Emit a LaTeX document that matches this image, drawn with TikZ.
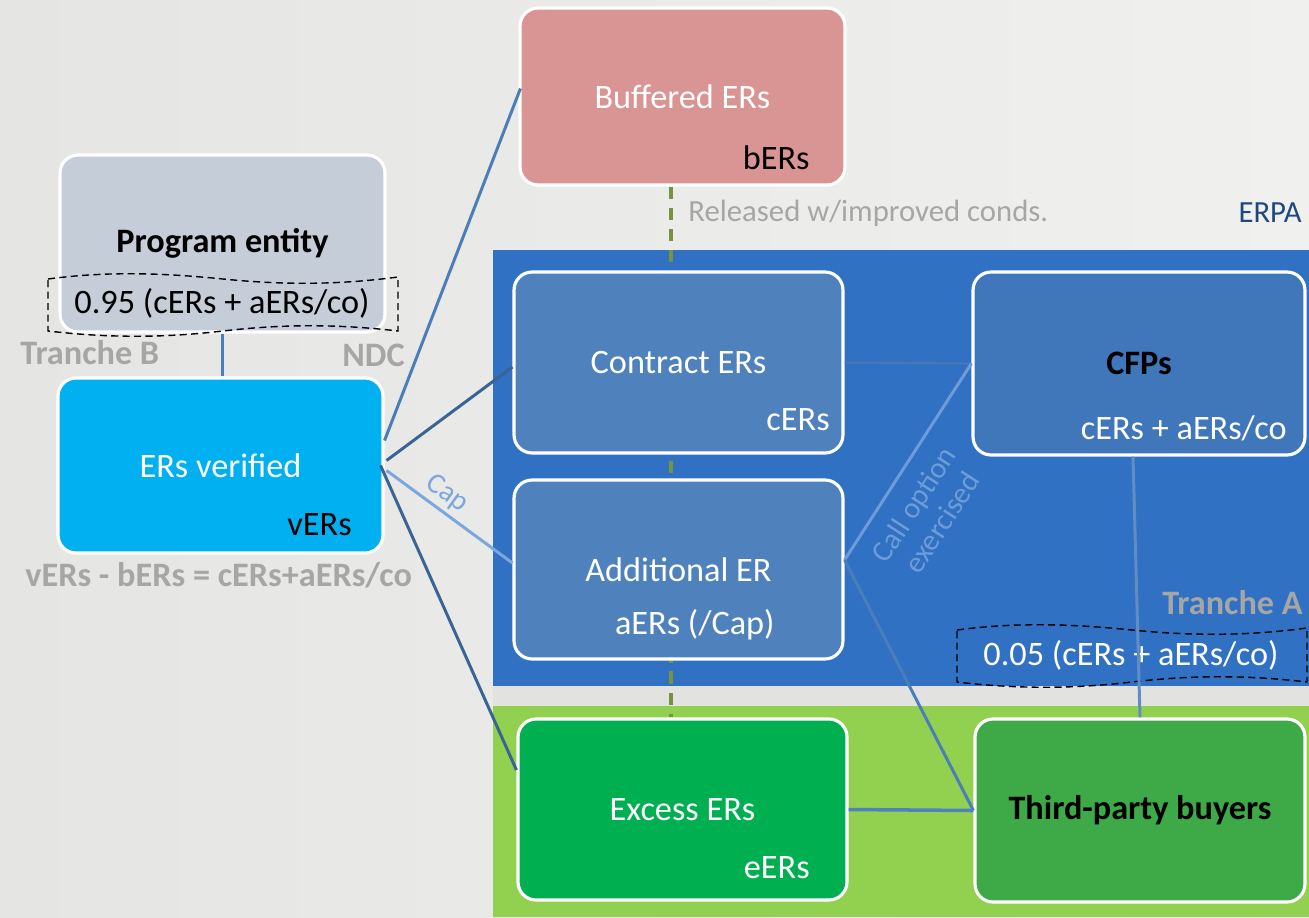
\documentclass[tikz,border=0pt]{standalone}
\usepackage{fontspec}
\setmainfont{Carlito}
\usetikzlibrary{calc}
\definecolor{bgl}{HTML}{E5E5E3}
\definecolor{bgr}{HTML}{F0F0EE}
\definecolor{progfill}{HTML}{C4CDD8}
\definecolor{verfill}{HTML}{00B0F0}
\definecolor{buffill}{HTML}{D99594}
\definecolor{bandblue}{HTML}{3071C3}
\definecolor{boxblue}{HTML}{4F81BD}
\definecolor{cfpblue}{HTML}{4076BA}
\definecolor{bandgreen}{HTML}{92D050}
\definecolor{excfill}{HTML}{00B050}
\definecolor{tpbfill}{HTML}{3DAA47}
\definecolor{gapgrey}{HTML}{E2E3E1}
\definecolor{tgrey}{HTML}{A6A6A6}
\definecolor{erpacol}{HTML}{1F497D}
\definecolor{olivecol}{HTML}{77933C}
\definecolor{lmid}{HTML}{4A7EBB}
\definecolor{ldark}{HTML}{3A6396}
\definecolor{llight}{HTML}{7BA7E1}
\definecolor{lcall}{HTML}{6E9CD8}
\definecolor{lthin}{HTML}{4A79B5}
\pgfdeclarelayer{bg}
\pgfsetlayers{bg,main}
\begin{document}
\begin{tikzpicture}[x=0.02cm,y=-0.02cm,
  fbig/.style={font=\fontsize{19.5}{23}\selectfont},
  fmid/.style={font=\fontsize{17.5}{21}\selectfont},
  box/.style={draw=white, line width=1.8pt, rounded corners=0.36cm, text=white, fbig, inner sep=0pt},
  sublab/.style={anchor=east, text=white, fbig, inner sep=0pt},
  greylab/.style={text=tgrey, inner sep=0pt, font=\fontsize{19.5}{23}\selectfont\bfseries},
  conn/.style={line width=1.7pt},
  wavebox/.pic={\draw[black, line width=0.8pt, dash pattern=on 4pt off 2.5pt]
     (0,2) .. controls (60,-6) and (115,-4) .. (175,2) .. controls (235,8) and (290,8) .. (350,0)
     -- (350,54) .. controls (290,47) and (235,47) .. (175,54) .. controls (115,61) and (60,61) .. (0,54) -- cycle;}
]
\useasboundingbox (0,0) rectangle (1309,917);

% nodes
\node[box, fill=progfill, minimum width=6.5cm, minimum height=3.54cm, text=black, font=\fontsize{19.5}{23}\selectfont\bfseries] (prog) at (222.5,243.5) {Program entity};
\node[box, fill=verfill, minimum width=6.5cm, minimum height=3.5cm] (ver) at (220.5,465.5) {ERs verified};
\node[box, fill=buffill, minimum width=6.5cm, minimum height=3.54cm] (buf) at (682.5,96.5) {Buffered ERs};
\node[box, fill=boxblue, minimum width=6.58cm, minimum height=3.62cm] (con) at (678.5,362.5) {Contract ERs};
\node[box, fill=boxblue, minimum width=6.58cm, minimum height=3.58cm] (add) at (678.5,569.5) {Additional ER};
\node[box, fill=cfpblue, minimum width=6.64cm, minimum height=3.66cm, text=black, font=\fontsize{19.5}{23}\selectfont\bfseries] (cfp) at (1139,363.5) {CFPs};
\node[box, fill=excfill, minimum width=6.58cm, minimum height=3.62cm] (exc) at (682.5,809.5) {Excess ERs};
\node[box, fill=tpbfill, minimum width=6.6cm, minimum height=3.66cm, text=black, font=\fontsize{19.5}{23}\selectfont\bfseries] (tpb) at (1140,810.5) {Third-party buyers};

% background, bands and the dashed release line behind the boxes
\begin{pgfonlayer}{bg}
\shade[left color=bgl, right color=bgr] (0,0) rectangle (1309,917);
\fill[gapgrey] (493,686) rectangle (1309,706);
\fill[bandblue] (493,250) rectangle (1309,686);
\fill[bandgreen] (493,706) rectangle (1309,917);
\draw[olivecol, line width=1.8pt, dash pattern=on 7pt off 5pt] ([xshift=-0.23cm]buf.south) -- ([xshift=-0.23cm]exc.north);
\end{pgfonlayer}

% sub labels
\node[sublab, text=black] (vers) at (352,525) {vERs};
\node[sublab, text=black] (bers) at (810,158) {bERs};
\node[sublab] (cers) at (830,420) {cERs};
\node[sublab] (aers) at (775,625) {aERs (/Cap)};
\node[sublab] (cfpsub) at (1287,428) {cERs + aERs/co};
\node[sublab] (eers) at (810,868) {eERs};

% grey and other labels
\node[greylab, anchor=west] (trb) at (20,353) {Tranche B};
\node[greylab, anchor=east] (ndc) at (405,355) {NDC};
\node[greylab, anchor=west] (eq) at (25,575) {vERs - bERs = cERs+aERs/co};
\node[greylab, anchor=east] (tra) at (1303,603) {Tranche A};
\node[fmid, text=tgrey, anchor=west, inner sep=0pt] (rel) at (688,213) {Released w/improved conds.};
\node[fmid, text=erpacol, anchor=east, inner sep=0pt] (erpa) at (1302,213) {ERPA};

% wavy dashed boxes
\pic at (48,277) {wavebox};
\node[fbig, text=black, inner sep=0pt] (p95) at (222,303) {0.95 (cERs + aERs/co)};
\pic at (957,628) {wavebox};
\node[fbig, text=white, inner sep=0pt] (p05) at (1131,655) {0.05 (cERs + aERs/co)};

% connectors
\draw[conn, lmid] (prog.south) -- (prog.south |- ver.north);
\draw[conn, lmid] ($(ver.east)+(0,-25)$) -- ($(buf.west)+(2,-8)$);
\draw[conn, ldark] ($(ver.east)+(2,-5)$) -- ($(con.west)+(0,4.5)$);
\draw[conn, llight] ($(ver.east)+(2,5)$) -- node[pos=0.4, sloped, above=1pt, text=llight, font=\fontsize{16.5}{20}\selectfont, inner sep=1pt] (caplab) {Cap} ($(add.west)+(0,-6.5)$);
\draw[conn, ldark] ($(ver.east)+(-4,0)$) -- ($(exc.west)+(0,-39.5)$);
\draw[line width=1.1pt, lthin] (con.east) -- (cfp.west);
\draw[conn, lcall] ($(add.east)+(0,-9.5)$) -- node[pos=0.36, sloped, below=9pt, text=lcall, align=center, font=\fontsize{17}{19}\selectfont, inner sep=0pt] (calllab) {Call option\\exercised} (cfp.west);
\draw[conn, lmid] ($(add.east)+(0,-9.5)$) -- (tpb.west);
\draw[line width=2pt, boxblue] (exc.east) -- (tpb.west);
\draw[conn, lcall!90!black] ($(cfp.south)+(-6,0)$) -- (tpb.north);
\end{tikzpicture}
\end{document}
